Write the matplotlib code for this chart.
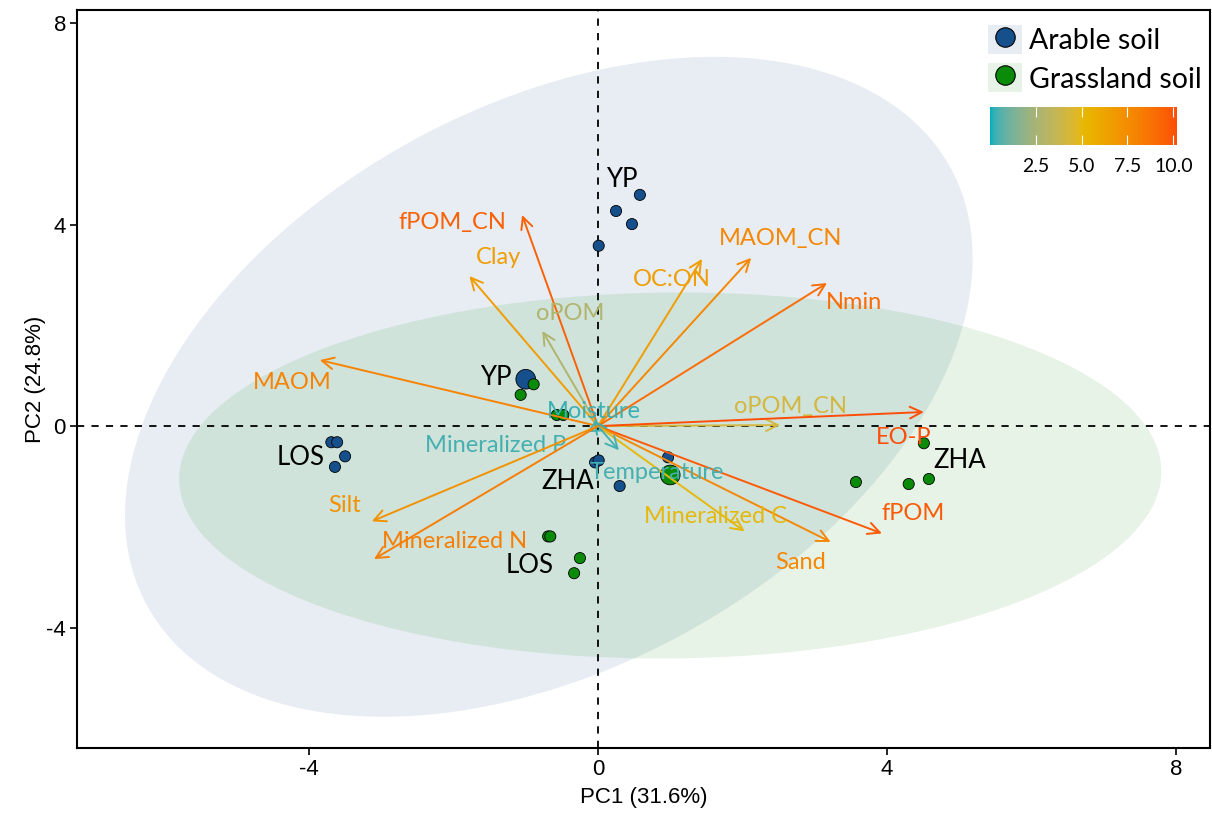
import numpy as np
import matplotlib.pyplot as plt
from matplotlib.colors import LinearSegmentedColormap, Normalize, to_rgb
from matplotlib.lines import Line2D
from matplotlib.patches import Patch
from matplotlib.colorbar import ColorbarBase

# sample scores
arable_pc1 = [0.58, 0.25, 0.47, 0.01, -1.00, -3.69, -3.61, -3.50, -3.64, -0.04, 0.01, 0.30, 0.97]
arable_pc2 = [4.59, 4.27, 4.01, 3.58, 0.93, -0.32, -0.32, -0.60, -0.81, -0.72, -0.68, -1.19, -0.62]
arable_big = [0, 0, 0, 0, 1, 0, 0, 0, 0, 0, 0, 0, 0]

grass_pc1 = [-0.89, -1.07, -0.57, -0.48, 1.00, -0.69, -0.66, -0.25, -0.33, 4.51, 3.57, 4.30, 4.58]
grass_pc2 = [0.83, 0.62, 0.22, 0.22, -0.97, -2.19, -2.19, -2.62, -2.92, -0.34, -1.11, -1.15, -1.05]
grass_big = [0, 0, 0, 0, 1, 0, 0, 0, 0, 0, 0, 0, 0]

# confidence ellipses: centre and shape matrix [[a, b], [b, d]]
arable_ell_centre = [-0.68, 0.78]
arable_ell_shape = [[34.4, 15.0], [15.0, 42.9]]
grass_ell_centre = [1.0, -0.98]
grass_ell_shape = [[46.2, 0.5], [0.5, 13.2]]

# site labels
site_names = ["YP", "YP", "LOS", "ZHA", "LOS", "ZHA"]
site_x = [0.33, -1.42, -4.12, -0.42, -0.94, 5.01]
site_y = [4.89, 0.97, -0.62, -1.09, -2.76, -0.68]

# variable loadings
var_names = ["fPOM_CN", "Clay", "oPOM", "MAOM", "MAOM_CN", "OC:ON", "Nmin", "oPOM_CN",
             "EO-P", "fPOM", "Sand", "Mineralized C", "Temperature", "Mineralized P",
             "Moisture", "Silt", "Mineralized N"]
var_x = [-1.05, -1.78, -0.77, -3.85, 2.12, 1.44, 3.17, 2.52,
         4.51, 3.93, 3.22, 2.03, 0.29, -0.15, -0.06, -3.13, -3.10]
var_y = [4.19, 2.98, 1.89, 1.31, 3.34, 3.32, 2.84, 0.02,
         0.28, -2.13, -2.30, -2.09, -0.48, -0.12, 0.12, -1.89, -2.64]
var_lab_x = [-2.02, -1.38, -0.39, -4.23, 2.52, 1.02, 3.55, 2.66,
             4.23, 4.36, 2.81, 1.62, 0.82, -1.42, -0.06, -3.51, -1.98]
var_lab_y = [4.05, 3.34, 2.24, 0.87, 3.73, 2.92, 2.46, 0.38,
             -0.22, -1.73, -2.70, -1.79, -0.93, -0.38, 0.28, -1.57, -2.30]
var_contrib = [9.5, 6.6, 2.8, 8.0, 7.8, 6.6, 9.0, 4.2,
               10.2, 9.7, 7.8, 5.0, 0.4, 0.4, 0.3, 7.2, 8.2]

blue = "#16508C"
green = "#0A8C0A"
grad_cols = ["#00AFBB", "#E7B800", "#FC4E07"]


# gradient interpolated in Lab space, like ggplot does
def srgb_to_lab(c):
    c = np.array(to_rgb(c))
    lin = np.where(c > 0.04045, ((c + 0.055) / 1.055) ** 2.4, c / 12.92)
    M = np.array([[0.4124, 0.3576, 0.1805], [0.2126, 0.7152, 0.0722], [0.0193, 0.1192, 0.9505]])
    xyz = M @ lin / np.array([0.95047, 1.0, 1.08883])
    f = np.where(xyz > 0.008856, np.cbrt(xyz), 7.787 * xyz + 16 / 116)
    return np.array([116 * f[1] - 16, 500 * (f[0] - f[1]), 200 * (f[1] - f[2])])


def lab_to_srgb(lab):
    fy = (lab[0] + 16) / 116
    f = np.array([fy + lab[1] / 500, fy, fy - lab[2] / 200])
    xyz = np.where(f ** 3 > 0.008856, f ** 3, (f - 16 / 116) / 7.787) * np.array([0.95047, 1.0, 1.08883])
    Minv = np.linalg.inv(np.array([[0.4124, 0.3576, 0.1805], [0.2126, 0.7152, 0.0722], [0.0193, 0.1192, 0.9505]]))
    lin = np.clip(Minv @ xyz, 0, 1)
    return np.clip(np.where(lin > 0.0031308, 1.055 * lin ** (1 / 2.4) - 0.055, 12.92 * lin), 0, 1)


labs = [srgb_to_lab(c) for c in grad_cols]
steps = []
for i in range(len(labs) - 1):
    for t in np.linspace(0, 1, 32, endpoint=False):
        steps.append(lab_to_srgb(labs[i] * (1 - t) + labs[i + 1] * t))
steps.append(lab_to_srgb(labs[-1]))
cmap = LinearSegmentedColormap.from_list("contrib", steps)
norm = Normalize(vmin=0, vmax=10.2)


def ellipse_xy(centre, shape):
    L = np.linalg.cholesky(np.array(shape))
    t = np.linspace(0, 2 * np.pi, 300)
    pts = L @ np.vstack([np.cos(t), np.sin(t)])
    return pts[0] + centre[0], pts[1] + centre[1]


fig = plt.figure(figsize=(12.12, 8.14), dpi=100)
ax = fig.add_axes([77 / 1212, 1 - 748 / 814, (1210 - 77) / 1212, (748 - 10) / 814])

ex, ey = ellipse_xy(arable_ell_centre, arable_ell_shape)
ax.fill(ex, ey, color=blue, alpha=0.1, lw=0, zorder=1)
ex, ey = ellipse_xy(grass_ell_centre, grass_ell_shape)
ax.fill(ex, ey, color=green, alpha=0.1, lw=0, zorder=1)

ax.axhline(0, color="black", ls=(0, (4, 4)), lw=1.3, zorder=2)
ax.axvline(0, color="black", ls=(0, (4, 4)), lw=1.3, zorder=2)

ax.scatter(arable_pc1, arable_pc2, s=[200 if b else 64 for b in arable_big],
           color=blue, edgecolor="black", lw=0.6, zorder=3)
ax.scatter(grass_pc1, grass_pc2, s=[200 if b else 64 for b in grass_big],
           color=green, edgecolor="black", lw=0.6, zorder=3)

for name, x, y in zip(site_names, site_x, site_y):
    ax.text(x, y, name, fontsize=18.5, family="Lato", ha="center", va="center", zorder=5)

for name, x, y, lx, ly, c in zip(var_names, var_x, var_y, var_lab_x, var_lab_y, var_contrib):
    col = cmap(norm(c))
    ax.annotate("", xy=(x, y), xytext=(0, 0),
                arrowprops=dict(arrowstyle="->,head_length=0.85,head_width=0.42",
                                color=col, lw=1.4, shrinkA=0, shrinkB=0), zorder=4)
    ax.text(lx, ly, name, color=col, fontsize=17, family="Lato",
            ha="center", va="center", zorder=4)

ax.set_xlim(-7.21, 8.47)
ax.set_ylim(-6.39, 8.26)
ax.set_xticks([-4, 0, 4, 8], ["-4", "0", "4", "8"])
ax.set_yticks([-4, 0, 4, 8], ["-4", "0", "4", "8"])
ax.tick_params(labelsize=16, length=5, width=1.2, pad=3)
for lab in ax.get_xticklabels() + ax.get_yticklabels():
    lab.set_family("Liberation Sans")
for sp in ax.spines.values():
    sp.set_linewidth(1.5)
ax.set_xlabel("PC1 (31.6%)", fontsize=16, family="Liberation Sans", labelpad=5)
ax.set_ylabel("PC2 (24.8%)", fontsize=16, family="Liberation Sans", labelpad=0)

handles = [
    (Patch(facecolor=blue, alpha=0.1, lw=0),
     Line2D([], [], marker="o", ms=14, mfc=blue, mec="black", mew=0.8, ls="")),
    (Patch(facecolor=green, alpha=0.1, lw=0),
     Line2D([], [], marker="o", ms=14, mfc=green, mec="black", mew=0.8, ls="")),
]
fig.legend(handles, ["Arable soil", "Grassland soil"], loc="upper left",
           bbox_to_anchor=(988 / 1212, 1 - 25 / 814), frameon=False,
           prop={"family": "Lato", "size": 20.5}, handlelength=1.2, handleheight=1.2,
           handletextpad=0.25, labelspacing=0.32, borderpad=0, borderaxespad=0)

cax = fig.add_axes([990 / 1212, 1 - 145 / 814, 187 / 1212, 38 / 814])
cb = ColorbarBase(cax, cmap=cmap, norm=norm, orientation="horizontal")
cb.outline.set_visible(False)
cb.set_ticks([2.5, 5.0, 7.5, 10.0])
cb.set_ticklabels(["2.5", "5.0", "7.5", "10.0"])
cax.tick_params(axis="x", direction="in", color="white", length=7, width=0.8,
                labelsize=14, pad=9, top=True)
for lab in cax.get_xticklabels():
    lab.set_family("Lato")

fig.savefig("out.png", dpi=100)
